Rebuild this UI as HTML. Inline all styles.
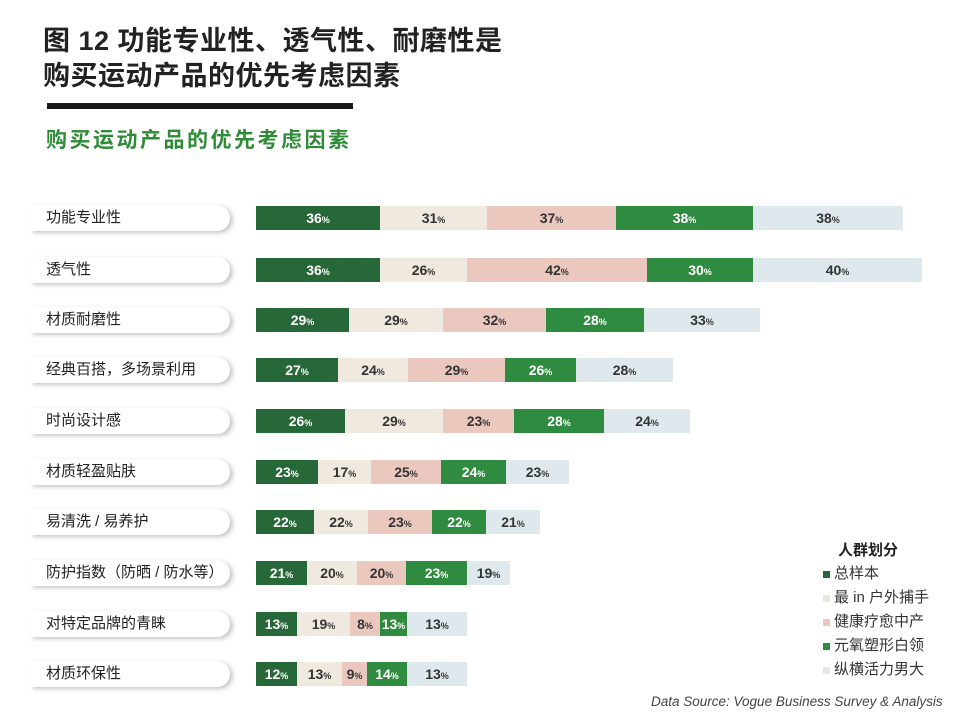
<!DOCTYPE html>
<html><head><meta charset="utf-8"><style>
body{margin:0;width:960px;height:727px;background:#fff;position:relative;overflow:hidden;font-family:"Liberation Sans","Noto Sans CJK SC",sans-serif}
.t{position:absolute;left:43px;font-size:27px;font-weight:bold;color:#222;letter-spacing:0.5px;white-space:nowrap}
.pill{position:absolute;left:30px;width:200px;height:26px;background:#fff;border-radius:0 14px 14px 0;box-shadow:3px 2px 5px rgba(0,0,0,.22)}
.lab{position:absolute;left:46px;font-size:15px;color:#222;line-height:26px;white-space:nowrap}
.seg{position:absolute;height:24px;line-height:24px;text-align:center;font-size:14px;font-weight:bold;color:#333}
.seg small{font-size:9px}
.a{background:#276838;color:#fff}.b{background:#efe9df}.c{background:#ebc8bd}.d{background:#2f8b3f;color:#fff}.e{background:#dfe9ed}
.lg{position:absolute;left:823px;font-size:15px;color:#333;white-space:nowrap}
.lg i{display:inline-block;width:7px;height:7px;margin-right:4px;vertical-align:middle}
</style></head><body>
<div class="t" style="top:19px">图 12 功能专业性、透气性、耐磨性是</div>
<div class="t" style="top:54px">购买运动产品的优先考虑因素</div>
<div style="position:absolute;left:47px;top:103px;width:306px;height:6px;background:#1a1a1a"></div>
<div style="position:absolute;left:46px;top:124px;font-size:21px;font-weight:bold;color:#2e8b36;letter-spacing:2.5px;white-space:nowrap">购买运动产品的优先考虑因素</div>
<div id="rows"></div>
<div class="lg" style="top:539px;left:838px;font-weight:bold;color:#222">人群划分</div>
<div class="lg" style="top:562px"><i style="background:#276838"></i>总样本</div>
<div class="lg" style="top:586px"><i style="background:#ebe7e0"></i>最 in 户外捕手</div>
<div class="lg" style="top:610px"><i style="background:#ebc8bd"></i>健康疗愈中产</div>
<div class="lg" style="top:634px"><i style="background:#2f8b3f"></i>元氧塑形白领</div>
<div class="lg" style="top:658px"><i style="background:#dfe9ed"></i>纵横活力男大</div>
<div style="position:absolute;left:651px;top:694px;font-size:13.5px;font-style:italic;color:#444;white-space:nowrap">Data Source: Vogue Business Survey &amp; Analysis</div>
<script>
var R=[
["功能专业性",206,[256,380,487,616,753,903],[36,31,37,38,38]],
["透气性",258,[256,380,467,647,753,922],[36,26,42,30,40]],
["材质耐磨性",308,[256,349,443,546,644,760],[29,29,32,28,33]],
["经典百搭，多场景利用",358,[256,338,408,505,576,673],[27,24,29,26,28]],
["时尚设计感",409,[256,345,443,514,604,690],[26,29,23,28,24]],
["材质轻盈贴肤",460,[256,318,371,441,506,569],[23,17,25,24,23]],
["易清洗 / 易养护",510,[256,314,368,432,486,540],[22,22,23,22,21]],
["防护指数（防晒 / 防水等）",561,[256,307,357,406,467,510],[21,20,20,23,19]],
["对特定品牌的青睐",612,[256,297,350,380,407,467],[13,19,8,13,13]],
["材质环保性",662,[256,297,342,367,407,467],[12,13,9,14,13]]];
var c="abcde",h="";
R.forEach(function(r){
h+='<div class="pill" style="top:'+(r[1]-1)+'px"></div><div class="lab" style="top:'+(r[1]-1)+'px">'+r[0]+'</div>';
for(var i=0;i<5;i++){h+='<div class="seg '+c[i]+'" style="top:'+r[1]+'px;left:'+r[2][i]+'px;width:'+(r[2][i+1]-r[2][i])+'px">'+r[3][i]+'<small>%</small></div>';}
});
document.getElementById("rows").innerHTML=h;
</script>
</body></html>
